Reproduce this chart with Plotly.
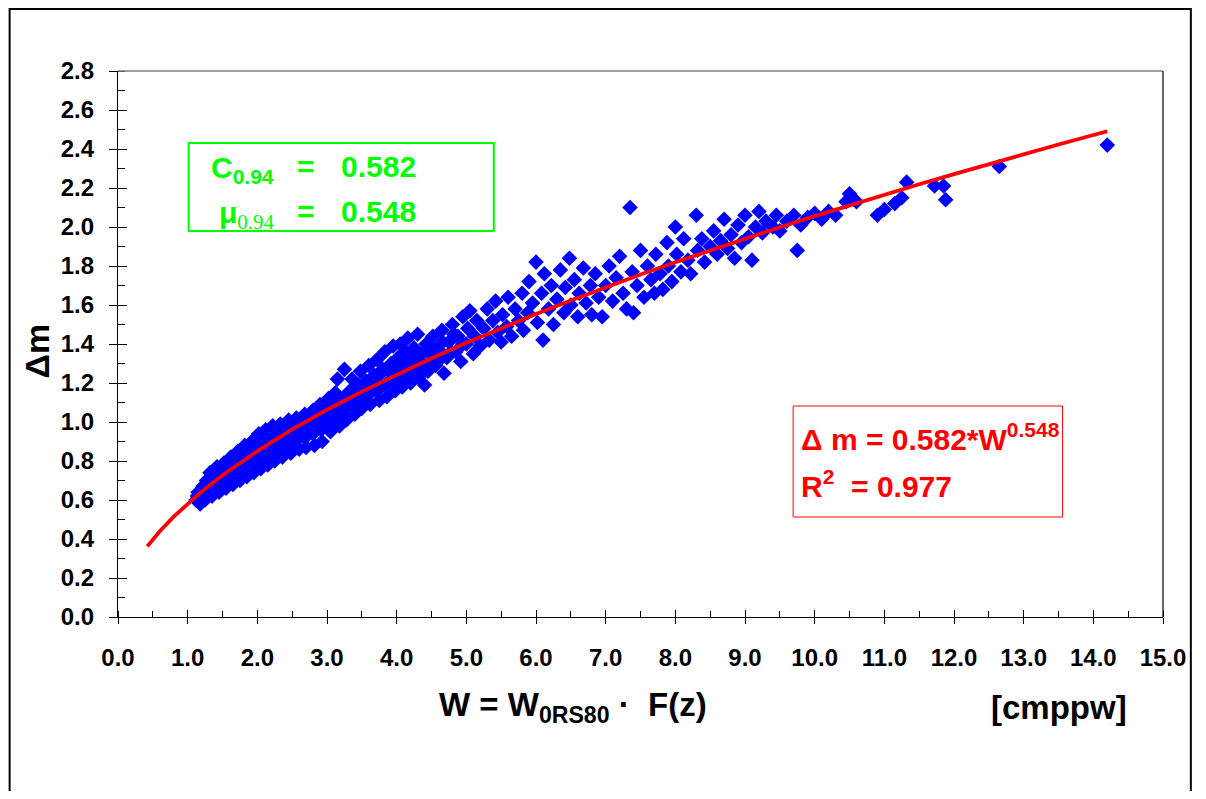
import plotly.graph_objects as go

# ---------------- data ----------------
POINTS = [
    # dense part 1.1 - 2.0
    (1.12,0.60),(1.15,0.64),(1.18,0.58),(1.20,0.62),(1.22,0.67),(1.25,0.60),(1.28,0.65),(1.30,0.70),
    (1.32,0.74),(1.35,0.62),(1.38,0.68),(1.40,0.72),(1.42,0.77),(1.45,0.64),(1.48,0.70),(1.50,0.75),
    (1.52,0.79),(1.55,0.66),(1.58,0.72),(1.60,0.77),(1.62,0.82),(1.65,0.68),(1.68,0.74),(1.70,0.80),
    (1.72,0.85),(1.75,0.70),(1.78,0.77),(1.80,0.83),(1.82,0.88),(1.85,0.72),(1.88,0.79),(1.90,0.85),
    (1.92,0.90),(1.95,0.74),(1.98,0.81),(2.00,0.87),(2.02,0.94),
    # 2.0 - 3.0
    (2.05,0.76),(2.08,0.83),(2.10,0.89),(2.12,0.96),(2.15,0.78),(2.18,0.85),(2.20,0.91),(2.22,0.98),
    (2.25,0.80),(2.28,0.87),(2.30,0.93),(2.33,0.99),(2.36,0.82),(2.40,0.89),(2.42,0.95),(2.45,1.01),
    (2.48,0.84),(2.50,0.91),(2.53,0.97),(2.56,1.02),(2.60,0.86),(2.62,0.93),(2.65,0.99),(2.68,1.04),
    (2.70,0.87),(2.73,0.94),(2.76,1.00),(2.80,1.06),(2.82,0.88),(2.85,0.96),(2.88,1.02),(2.90,1.09),
    (2.93,0.90),(2.96,0.98),(3.00,1.04),(3.02,1.12),
    # 3.0 - 4.0
    (3.05,0.95),(3.08,1.02),(3.10,1.08),(3.12,1.15),(3.15,1.22),(3.18,0.98),(3.20,1.05),(3.22,1.12),
    (3.25,1.27),(3.28,1.01),(3.30,1.09),(3.33,1.16),(3.36,1.22),(3.40,1.04),(3.42,1.12),(3.45,1.19),
    (3.48,1.26),(3.50,1.07),(3.53,1.14),(3.56,1.21),(3.60,1.29),(3.62,1.09),(3.65,1.17),(3.68,1.24),
    (3.72,1.32),(3.75,1.11),(3.78,1.19),(3.80,1.27),(3.83,1.36),(3.86,1.13),(3.90,1.21),(3.92,1.30),
    (3.95,1.39),(3.98,1.16),(4.00,1.24),(4.02,1.33),(4.05,1.40),
    # 4.0 - 5.0
    (4.08,1.18),(4.10,1.27),(4.13,1.36),(4.16,1.43),(4.20,1.20),(4.22,1.29),(4.25,1.38),(4.30,1.45),
    (4.32,1.23),(4.35,1.31),(4.40,1.19),(4.42,1.40),(4.45,1.26),(4.50,1.34),(4.52,1.44),(4.56,1.29),
    (4.60,1.37),(4.65,1.47),(4.68,1.25),(4.72,1.33),(4.75,1.41),(4.80,1.50),(4.85,1.36),(4.88,1.44),
    (4.92,1.31),(4.95,1.54),(5.00,1.40),(5.02,1.48),(5.05,1.57),
    # 5.0 - 6.2
    (5.10,1.35),(5.12,1.44),(5.15,1.52),(5.20,1.39),(5.25,1.48),(5.30,1.58),(5.33,1.42),(5.38,1.52),
    (5.42,1.62),(5.45,1.46),(5.50,1.41),(5.52,1.55),(5.58,1.49),(5.60,1.64),(5.65,1.44),(5.70,1.58),
    (5.75,1.52),(5.80,1.66),(5.82,1.47),(5.88,1.56),(5.90,1.72),(5.95,1.61),(6.00,1.82),(6.02,1.51),
    (6.08,1.66),(6.10,1.42),(6.12,1.76),(6.18,1.58),
    # 6.2 - 7.5
    (6.22,1.70),(6.25,1.50),(6.30,1.63),(6.35,1.78),(6.40,1.56),(6.42,1.69),(6.48,1.84),(6.50,1.60),
    (6.55,1.73),(6.60,1.54),(6.62,1.66),(6.68,1.79),(6.72,1.61),(6.78,1.70),(6.80,1.55),(6.85,1.76),
    (6.90,1.64),(6.95,1.54),(7.00,1.70),(7.05,1.80),(7.10,1.62),(7.15,1.74),(7.20,1.85),(7.25,1.66),
    (7.30,1.58),(7.35,2.10),(7.38,1.77),(7.40,1.56),(7.45,1.70),(7.50,1.88),
    # 7.5 - 9.0
    (7.55,1.64),(7.60,1.80),(7.65,1.73),(7.70,1.66),(7.72,1.86),(7.78,1.76),(7.82,1.68),(7.88,1.92),
    (7.90,1.80),(7.95,1.72),(8.00,2.00),(8.02,1.86),(8.08,1.77),(8.12,1.94),(8.18,1.83),(8.22,1.76),
    (8.30,2.06),(8.32,1.88),(8.38,1.94),(8.42,1.82),(8.50,1.90),(8.55,1.98),(8.60,1.86),(8.65,1.93),
    (8.70,2.04),(8.75,1.89),(8.80,1.96),(8.85,1.84),(8.90,2.01),(8.95,1.92),
    # 9.0 - 10.6
    (9.00,2.06),(9.05,1.95),(9.10,1.83),(9.15,2.00),(9.20,2.08),(9.25,1.97),(9.30,2.03),(9.40,2.00),
    (9.45,2.06),(9.50,1.98),(9.60,2.03),(9.70,2.06),(9.75,1.88),(9.80,2.01),(9.90,2.05),(10.00,2.07),
    (10.10,2.04),(10.20,2.08),(10.30,2.06),(10.45,2.13),(10.50,2.17),(10.60,2.13),
    # sparse tail
    (10.90,2.06),(11.00,2.09),(11.15,2.12),(11.25,2.15),(11.32,2.23),(11.72,2.21),(11.85,2.21),
    (11.88,2.14),(12.65,2.31),(14.20,2.42),
]
# extra points filling the dense core of the cloud
POINTS_CORE = [
    (1.14,0.62),(1.24,0.64),(1.27,0.70),(1.34,0.67),(1.37,0.73),(1.44,0.69),(1.47,0.75),(1.54,0.71),
    (1.57,0.77),(1.64,0.73),(1.67,0.79),(1.74,0.75),(1.77,0.82),(1.84,0.77),(1.87,0.84),(1.94,0.79),
    (1.97,0.86),(2.00,0.92),
    (2.04,0.81),(2.07,0.88),(2.14,0.83),(2.17,0.90),(2.24,0.85),(2.27,0.92),(2.35,0.87),(2.38,0.94),
    (2.47,0.89),(2.50,0.96),(2.58,0.91),(2.61,0.98),(2.69,0.92),(2.72,0.99),(2.80,0.94),(2.83,1.01),
    (2.92,0.96),(2.95,1.03),(3.00,0.99),(3.02,1.07),
    (3.06,1.00),(3.09,1.11),(3.16,1.03),(3.19,1.09),(3.26,1.06),(3.29,1.13),(3.38,1.09),(3.41,1.17),
    (3.49,1.11),(3.52,1.19),(3.60,1.14),(3.63,1.21),(3.72,1.16),(3.75,1.24),(3.84,1.19),(3.87,1.27),
    (3.96,1.21),(3.99,1.29),
    (4.08,1.23),(4.11,1.32),(4.20,1.25),(4.24,1.34),(4.34,1.27),(4.38,1.36),(4.48,1.30),(4.50,1.39),
    (4.62,1.32),(4.66,1.41),(4.78,1.36),(4.82,1.45),(4.95,1.40),
]
W = [p[0] for p in POINTS + POINTS_CORE]
DM = [p[1] for p in POINTS + POINTS_CORE]

# fitted power curve  dm = 0.582 * W^0.548
FIT_W = [0.42, 0.6, 0.8, 1.0, 1.2, 1.5, 2.0, 2.5, 3.0, 3.5, 4.0, 4.5, 5.0, 5.5, 6.0, 6.5,
         7.0, 7.5, 8.0, 8.5, 9.0, 9.5, 10.0, 10.5, 11.0, 11.5, 12.0, 12.5, 13.0, 13.5, 14.0, 14.2]
FIT_DM = [0.362, 0.440, 0.515, 0.582, 0.643, 0.727, 0.851, 0.962, 1.063, 1.156, 1.244, 1.327,
          1.406, 1.481, 1.554, 1.623, 1.691, 1.756, 1.819, 1.880, 1.940, 1.999, 2.056, 2.111,
          2.166, 2.219, 2.271, 2.323, 2.373, 2.423, 2.472, 2.491]

# ---------------- layout helpers ----------------
OFF = 8                      # page margin of the html body
W_FIG, H_FIG = 1190, 783
L, R, T, B = 118 - OFF, 1169 - OFF, 71 - OFF, 617 - OFF


def pxx(x):                  # page pixel -> paper x
    return (x - OFF - L) / (R - L)


def pxy(y):                  # page pixel -> paper y
    return (B - (y - OFF)) / (B - T)


SANS = "Liberation Sans, Arial, sans-serif"
GREEN = "#00FF00"
RED = "#FF0000"

fig = go.Figure()
fig.add_trace(go.Scatter(x=W, y=DM, mode="markers",
                         marker=dict(symbol="diamond", size=12, color="#0000FF",
                                     line=dict(width=0)),
                         showlegend=False, hoverinfo="x+y"))
fig.add_trace(go.Scatter(x=FIT_W, y=FIT_DM, mode="lines",
                         line=dict(color=RED, width=3.8), showlegend=False))
# dummy trace to activate overlay axes (inner halves of major ticks)
fig.add_trace(go.Scatter(x=[None], y=[None], xaxis="x2", yaxis="y2",
                         showlegend=False, hoverinfo="skip"))

tickfont = dict(family=SANS, size=24, color="black", weight="bold")

fig.update_layout(
    width=W_FIG, height=H_FIG,
    margin=dict(l=L, r=W_FIG - R, t=T, b=H_FIG - B),
    paper_bgcolor="white", plot_bgcolor="white",
    xaxis=dict(range=[0, 15], dtick=1, tick0=0, tickformat=".1f",
               showgrid=False, zeroline=False,
               showline=True, linecolor="black", linewidth=1.2,
               ticks="outside", ticklen=6, tickwidth=1.2, tickcolor="black",
               minor=dict(ticks="inside", ticklen=6, dtick=0.5, tickcolor="black", tickwidth=1),
               tickfont=tickfont, ticklabelstandoff=13),
    yaxis=dict(range=[0, 2.8], dtick=0.2, tick0=0, tickformat=".1f",
               showgrid=False, zeroline=False,
               showline=True, linecolor="black", linewidth=1.2,
               ticks="outside", ticklen=8, tickwidth=1.2, tickcolor="black",
               minor=dict(ticks="inside", ticklen=7, dtick=0.1, tickcolor="black", tickwidth=1),
               tickfont=tickfont, ticklabelstandoff=10),
    xaxis2=dict(range=[0, 15], dtick=1, overlaying="x", anchor="y2", side="bottom",
                showgrid=False, zeroline=False, showline=False, showticklabels=False,
                ticks="inside", ticklen=7, tickwidth=1.2, tickcolor="black"),
    yaxis2=dict(range=[0, 2.8], dtick=0.2, overlaying="y", anchor="x2", side="left",
                showgrid=False, zeroline=False, showline=False, showticklabels=False,
                ticks="inside", ticklen=9, tickwidth=1.2, tickcolor="black"),
    showlegend=False,
)

shapes = [
    # plot frame top (grey) and right (black)
    dict(type="line", xref="paper", yref="paper", x0=0, x1=1, y0=1, y1=1,
         line=dict(color="#808080", width=1.5)),
    dict(type="line", xref="paper", yref="paper", x0=1, x1=1, y0=0, y1=1,
         line=dict(color="black", width=1.2)),
    # outer chart border (bottom edge lies below the visible page)
    dict(type="rect", xref="paper", yref="paper", x0=pxx(OFF + 1), x1=pxx(OFF + W_FIG - 1),
         y0=pxy(840), y1=pxy(OFF + 1), line=dict(color="black", width=2)),
    # green box
    dict(type="rect", xref="paper", yref="paper", x0=pxx(189), x1=pxx(496),
         y0=pxy(231), y1=pxy(143), line=dict(color=GREEN, width=2)),
    # red box
    dict(type="rect", xref="paper", yref="paper", x0=pxx(797), x1=pxx(1068),
         y0=pxy(517), y1=pxy(406), line=dict(color=RED, width=1)),
]
fig.update_layout(shapes=shapes)


def ann(text, x, y, size, color="black", xanchor="left", angle=0, family=SANS):
    fig.add_annotation(text=text, x=pxx(x), y=pxy(y), xref="paper", yref="paper",
                       showarrow=False, xanchor=xanchor, yanchor="middle",
                       textangle=angle,
                       font=dict(family=family, size=size, color=color, weight="bold"))


# green box texts
ann("C<sub>0.94</sub>", 210, 169, 30, GREEN)
ann("=", 296, 166, 30, GREEN)
ann("0.582", 340, 166, 30, GREEN)
ann("μ<sub><span style='font-family:Liberation Serif;font-weight:normal'>0.94</span></sub>",
    218, 215, 30, GREEN)
ann("=", 296, 212, 30, GREEN)
ann("0.548", 340, 212, 30, GREEN)

# red box texts
ann("Δ m = 0.582*W<sup>0.548</sup>", 803, 437, 30, RED)
ann("R<sup>2</sup>  = 0.977", 803, 484, 30, RED)

# axis titles
ann("Δm", 37, 351, 34, "black", xanchor="center", angle=-90)
ann("W = W<sub>0RS80</sub> ·  F(z)", 576, 707, 33, "black", xanchor="center")
ann("[cmppw]", 994, 707, 33, "black")

fig.write_html("out.html")
